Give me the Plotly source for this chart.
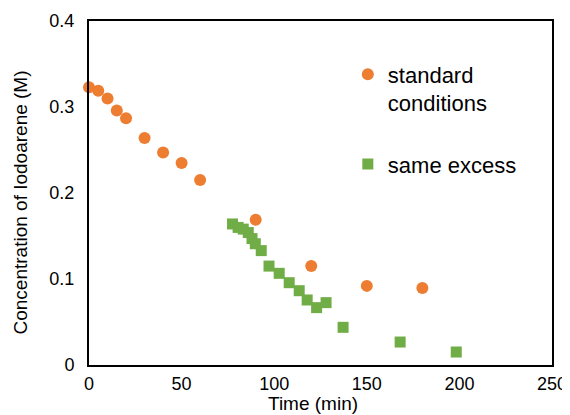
import plotly.graph_objects as go

std_time = [0, 5, 10, 15, 20, 30, 40, 50, 60, 90, 120, 150, 180]
std_conc = [0.323, 0.319, 0.310, 0.296, 0.287, 0.264, 0.247, 0.235, 0.215, 0.169, 0.115, 0.092, 0.0895]

exc_time = [77.5, 80.5, 83.3, 86, 88, 89.8, 93, 97.2, 102.7, 108.1, 113.5, 117.8, 122.9, 128, 137.2, 168, 198.3]
exc_conc = [0.164, 0.160, 0.158, 0.154, 0.147, 0.141, 0.133, 0.115, 0.1066, 0.0957, 0.0864, 0.0756, 0.0667, 0.0725, 0.0438, 0.0267, 0.0151]

x_ticks = [0, 50, 100, 150, 200, 250]
y_ticks = [0, 0.1, 0.2, 0.3, 0.4]
y_tick_text = ["0", "0.1", "0.2", "0.3", "0.4"]

x_title = "Time (min)"
y_title = "Concentration of Iodoarene (M)"

FONT = "Liberation Sans, Arial, Helvetica, sans-serif"

fig = go.Figure()
fig.add_trace(go.Scatter(
    x=std_time, y=std_conc, mode="markers", name="standard<br>conditions",
    marker=dict(symbol="circle", size=12, color="#ED7D31"),
    cliponaxis=False, legend="legend", showlegend=True,
))
fig.add_trace(go.Scatter(
    x=exc_time, y=exc_conc, mode="markers", name="same excess",
    marker=dict(symbol="square", size=11, color="#70AD47"),
    cliponaxis=False, legend="legend2", showlegend=True,
))

axis_common = dict(
    showline=True, linecolor="black", linewidth=2, mirror=True,
    showgrid=False, zeroline=False, ticks="", automargin=False,
    tickfont=dict(family=FONT, size=18, color="black"),
)

# page body adds an 8px offset, so the figure is sized to fill the window from there
fig.update_layout(
    width=562, height=407,
    showlegend=True,
    margin=dict(l=81, r=18, t=13, b=50),
    paper_bgcolor="white", plot_bgcolor="white",
    font=dict(family=FONT, color="black"),
    xaxis=dict(range=[0, 250], tickvals=x_ticks, ticklabelstandoff=1, **axis_common),
    yaxis=dict(range=[0, 0.4], tickvals=y_ticks, ticktext=y_tick_text, ticklabelstandoff=9,
               **axis_common),
    legend=dict(x=0.559, y=0.9055, xanchor="left", yanchor="top", valign="top",
                font=dict(family=FONT, size=22), bgcolor="rgba(0,0,0,0)",
                itemwidth=30, tracegroupgap=0),
    legend2=dict(x=0.559, y=0.645, xanchor="left", yanchor="top", valign="top",
                 font=dict(family=FONT, size=22), bgcolor="rgba(0,0,0,0)",
                 itemwidth=30),
    annotations=[
        dict(text=x_title, xref="paper", yref="paper", x=0.483, y=-0.1105,
             xanchor="center", yanchor="middle", showarrow=False,
             font=dict(family=FONT, size=19, color="black")),
        dict(text=y_title, xref="paper", yref="paper", x=-0.149, y=0.4724,
             xanchor="center", yanchor="middle", showarrow=False, textangle=-90,
             font=dict(family=FONT, size=19, color="black")),
    ],
)

fig.write_html("out.html")
